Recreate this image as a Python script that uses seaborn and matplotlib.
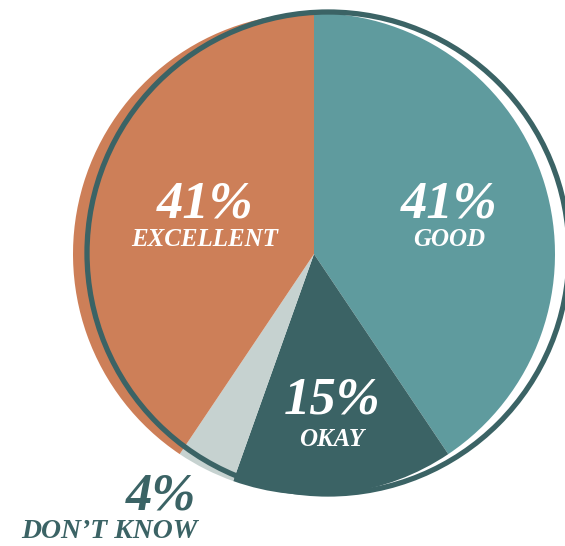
import matplotlib.pyplot as plt
import seaborn as sns
from matplotlib.patches import Circle

# survey answers, clockwise from the top
labels = ['GOOD', 'OKAY', 'DON\u2019T KNOW', 'EXCELLENT']
shares = [41, 15, 4, 41]
colors = ['#5f9b9e', '#3b6365', '#c6d2d0', '#cd7f58']

sns.set_style('white')
plt.rcParams['font.family'] = 'serif'
plt.rcParams['font.serif'] = ['Liberation Serif', 'DejaVu Serif']

W, H = 565, 546
fig = plt.figure(figsize=(W / 100, H / 100), dpi=100)
ax = fig.add_axes([0, 0, 1, 1])

# pie in pixel-like coords (y up)
cx, cy, r = 314, H - 254, 241
ax.pie(shares, colors=colors, startangle=90, counterclock=False,
       center=(cx, cy), radius=r, wedgeprops=dict(linewidth=0))

# offset outline ring
ring = Circle((cx + 14, H - 253), r, fill=False, lw=3.8, ec='#3b6365', zorder=5)
ax.add_patch(ring)

# labels: (x, y of percent, y of name, colour, name size)
label_pos = {
    'GOOD': (449, 205, 239, 'white', 18),
    'OKAY': (332, 401, 439, 'white', 18),
    'DON\u2019T KNOW': (109, 497, 531, '#3b6365', 20),
    'EXCELLENT': (205, 205, 239, 'white', 18),
}
for lab, val in zip(labels, shares):
    x, yp, yn, c, fs = label_pos[lab]
    px = x + 52 if lab.startswith('DON') else x
    ax.text(px, H - yp, f'{val}%', color=c, fontsize=38, fontweight='bold',
            fontstyle='italic', family='Liberation Serif',
            ha='center', va='center', zorder=6)
    ax.text(x, H - yn, lab, color=c, fontsize=fs, fontweight='bold',
            fontstyle='italic', family='Liberation Serif',
            ha='center', va='center', zorder=6)

ax.set_xlim(0, W)
ax.set_ylim(0, H)
ax.set_aspect('equal')
ax.axis('off')

fig.savefig('out.png', dpi=100)
